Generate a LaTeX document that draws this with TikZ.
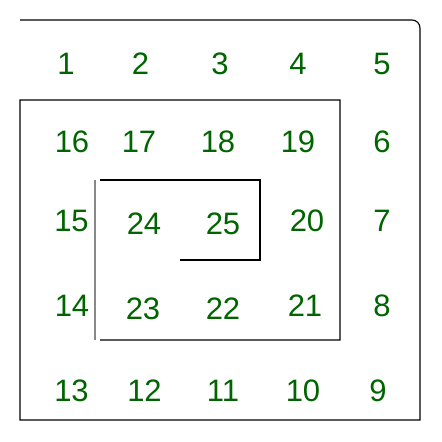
\documentclass[tikz,border=0pt]{standalone}
\usepackage{fontspec}
\setmainfont{Liberation Sans}
\definecolor{numgreen}{RGB}{0,100,0}
\definecolor{sidegray}{RGB}{136,136,136}
\begin{document}
\begin{tikzpicture}[x=1pt,y=-1pt,
  num/.style={text=numgreen,font=\fontsize{31}{31}\selectfont,inner sep=0pt,anchor=center},
  wall/.style={draw=black,line width=1.1pt},
  graywall/.style={draw=sidegray,line width=1.6pt}]
\useasboundingbox (0,0) rectangle (442,442);
% walls
\draw[wall] (20,20) -- (412,20) arc[start angle=90,end angle=0,radius=8pt] -- (420,420) -- (20,420) -- (20,100) -- (340,100) -- (340,340) -- (100,340);
\draw[graywall] (95,180) -- (95,340);
\draw[wall] (100,180) -- (260,180) -- (260,260) -- (180,260);
% numbers
\node[num] (n1) at (66,64) {1};
\node[num] (n2) at (140.5,64) {2};
\node[num] (n3) at (220,64) {3};
\node[num] (n4) at (298,64) {4};
\node[num] (n5) at (382,64) {5};
\node[num] (n16) at (72,141.5) {16};
\node[num] (n17) at (139,141.5) {17};
\node[num] (n18) at (218,141.5) {18};
\node[num] (n19) at (298,141.5) {19};
\node[num] (n6) at (382,141.5) {6};
\node[num] (n15) at (71.5,220.5) {15};
\node[num] (n24) at (144,224) {24};
\node[num] (n25) at (223,224) {25};
\node[num] (n20) at (307,220.5) {20};
\node[num] (n7) at (382,220.5) {7};
\node[num] (n14) at (72,306) {14};
\node[num] (n23) at (143,309) {23};
\node[num] (n22) at (223,309) {22};
\node[num] (n21) at (305,306) {21};
\node[num] (n8) at (382,306) {8};
\node[num] (n13) at (71.5,390.5) {13};
\node[num] (n12) at (144.5,390.5) {12};
\node[num] (n11) at (223,390.5) {11};
\node[num] (n10) at (303,390.5) {10};
\node[num] (n9) at (378,390.5) {9};
\end{tikzpicture}
\end{document}
